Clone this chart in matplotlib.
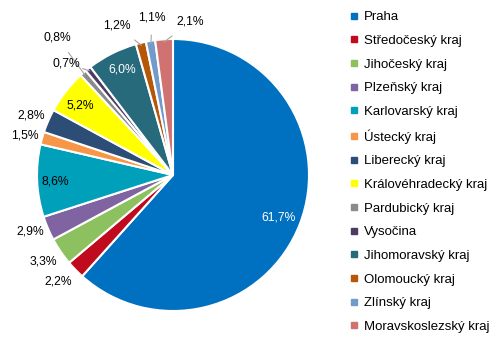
import numpy as np
import matplotlib
matplotlib.use("Agg")
import matplotlib.pyplot as plt
from matplotlib.lines import Line2D

plt.rcParams['font.family'] = ['Liberation Sans', 'DejaVu Sans']

regions = ['Praha', 'Středočeský kraj', 'Jihočeský kraj', 'Plzeňský kraj',
           'Karlovarský kraj', 'Ústecký kraj', 'Liberecký kraj',
           'Královéhradecký kraj', 'Pardubický kraj', 'Vysočina',
           'Jihomoravský kraj', 'Olomoucký kraj', 'Zlínský kraj',
           'Moravskoslezský kraj']
shares = [61.7, 2.2, 3.3, 2.9, 8.6, 1.5, 2.8, 5.2, 0.8, 0.7, 6.0, 1.2, 1.1, 2.1]
colors = ['#0070C0', '#C00A1E', '#8DC05F', '#8064A2', '#00A0BA', '#F79646',
          '#2C4D75', '#FFFF00', '#8A8A8A', '#4D3B62', '#276A7C', '#B65708',
          '#729ACA', '#D07272']

# label placement (pixel coords in the original picture), leader line flag, text colour
label_px = [(279, 218), (58, 281), (43, 262), (30, 232), (55, 181), (25, 135),
            (31, 115), (80, 105), (57, 37), (66, 63), (122, 69), (117, 26),
            (152, 18), (190, 22)]
leader = [False, False, False, False, False, False, False, False,
          True, True, False, True, True, True]
txt_col = ['white', 'black', 'black', 'black', 'black', 'black', 'black',
           'black', 'black', 'black', 'white', 'black', 'black', 'black']

W, H = 504, 352
cx, cy, R = 173, 175, 136

fig = plt.figure(figsize=(W / 100, H / 100), dpi=100)
ax = fig.add_axes([(cx - R) / W, (H - cy - R) / H, 2 * R / W, 2 * R / H])

wedges, _ = ax.pie(shares, colors=colors, startangle=90, counterclock=False,
                   radius=1.0, wedgeprops=dict(edgecolor='white', linewidth=1.5))
ax.set_xlim(-1, 1)
ax.set_ylim(-1, 1)
ax.set_aspect('equal')
ax.axis('off')


def to_data(px, py):
    return (px - cx) / R, (cy - py) / R


for w, v, (px, py), ld, tc in zip(wedges, shares, label_px, leader, txt_col):
    txt = f"{v:.1f}%".replace('.', ',')
    tx, ty = to_data(px, py)
    if ld:
        ang = np.deg2rad((w.theta1 + w.theta2) / 2)
        ex, ey = 0.98 * np.cos(ang), 0.98 * np.sin(ang)
        ax.annotate(txt, xy=(ex, ey), xytext=(tx, ty), ha='center', va='center',
                    fontsize=8.7, color=tc,
                    arrowprops=dict(arrowstyle='-', color='#A6A6A6', lw=0.8,
                                    shrinkA=6, shrinkB=0))
    else:
        ax.text(tx, ty, txt, ha='center', va='center', fontsize=8.7, color=tc)

handles = [Line2D([], [], marker='s', linestyle='none', markersize=4,
                  markerfacecolor=c, markeredgecolor=c) for c in colors]
fig.legend(handles, regions, loc='upper left', bbox_to_anchor=(350 / W, 1 - 11 / H),
           frameon=False, fontsize=9.5, labelspacing=0.865, handlelength=0.6,
           handletextpad=0.45, borderaxespad=0, borderpad=0)

fig.savefig('out.png', dpi=100)
